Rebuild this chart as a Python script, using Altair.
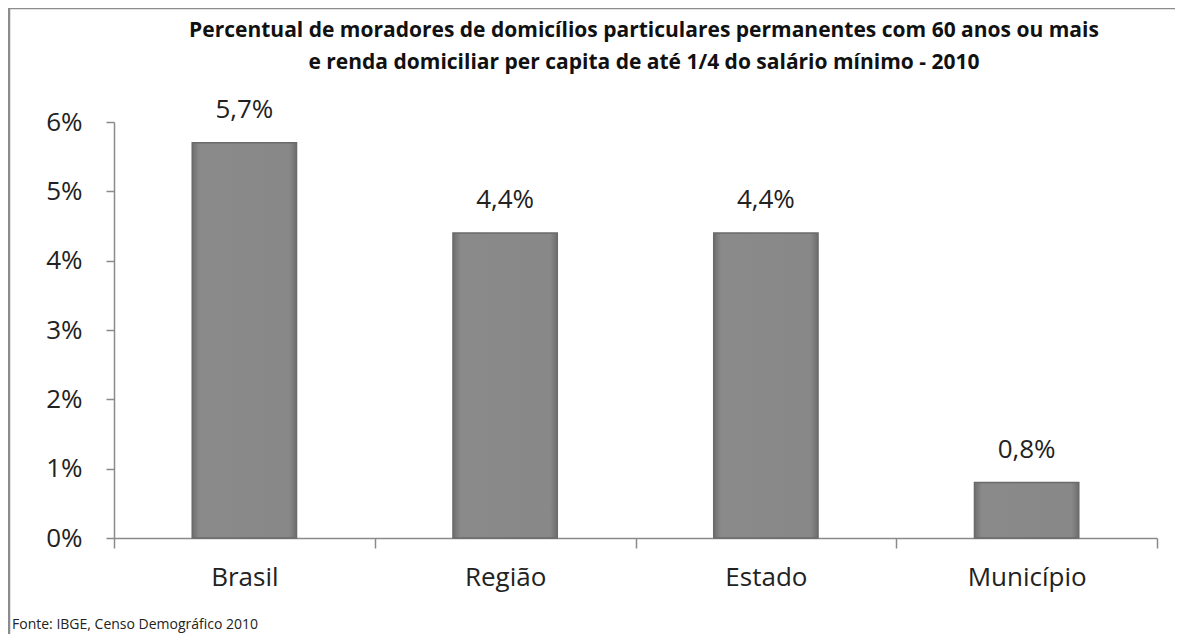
import altair as alt
import pandas as pd

categories = ["Brasil", "Região", "Estado", "Município"]
values = [0.057, 0.044, 0.044, 0.008]
y_ticks = [0, 0.01, 0.02, 0.03, 0.04, 0.05, 0.06]
title_line1 = "Percentual de moradores de domicílios particulares permanentes com 60 anos ou mais"
title_line2 = "e renda domiciliar per capita de até 1/4 do salário mínimo - 2010"
source_text = "Fonte: IBGE, Censo Demográfico 2010"

labels = [f"{v * 100:.1f}%".replace(".", ",") for v in values]
df = pd.DataFrame({"cat": categories, "val": values, "lab": labels})

FONT = "Open Sans"
W, H = 1043, 416

x_enc = alt.X(
    "cat:N",
    sort=categories,
    title=None,
    scale=alt.Scale(paddingInner=0, paddingOuter=0),
    axis=alt.Axis(
        labelAngle=0,
        labelFont=FONT,
        labelFontSize=26,
        labelColor="#222222",
        labelPadding=16,
        domainColor="#8a8a8a",
        domainWidth=1.5,
        tickColor="#8a8a8a",
        tickWidth=1.5,
        tickSize=10,
        tickBand="extent",
    ),
)
y_enc = alt.Y(
    "val:Q",
    title=None,
    scale=alt.Scale(domain=[0, 0.06], nice=False),
    axis=alt.Axis(
        values=y_ticks,
        format=".0%",
        labelFont=FONT,
        labelFontSize=26,
        labelColor="#222222",
        labelPadding=24,
        domainColor="#8a8a8a",
        domainWidth=1.5,
        tickColor="#8a8a8a",
        tickWidth=1.5,
        tickSize=8,
        grid=False,
    ),
)

bar_fill = alt.Gradient(
    gradient="linear",
    x1=0, x2=1, y1=0, y2=0,
    stops=[
        alt.GradientStop(color="#6e6e6e", offset=0),
        alt.GradientStop(color="#8a8a8a", offset=0.07),
        alt.GradientStop(color="#888888", offset=0.93),
        alt.GradientStop(color="#6e6e6e", offset=1),
    ],
)

bars = alt.Chart(df).mark_bar(
    fill=bar_fill, stroke="#6a6a6a", strokeWidth=1.5,
    width=alt.RelativeBandSize(0.4),
).encode(x=x_enc, y=y_enc)

texts = alt.Chart(df).mark_text(
    font=FONT, fontSize=26, color="#222222", baseline="bottom", dy=-20
).encode(x=alt.X("cat:N", sort=categories), y="val:Q", text="lab:N")

one = pd.DataFrame({"k": [0]})
border = alt.Chart(one).mark_rect(
    fillOpacity=0, stroke="#8c8c8c", strokeWidth=2.5
).encode(
    x=alt.value(-105), x2=alt.value(W + 120),
    y=alt.value(-114), y2=alt.value(H + 140),
)
title1 = alt.Chart(one).mark_text(
    font=FONT, fontSize=21, fontWeight="bold", color="#111111",
    align="center", baseline="middle",
).encode(x=alt.value(530), y=alt.value(-91), text=alt.value(title_line1))
title2 = alt.Chart(one).mark_text(
    font=FONT, fontSize=21, fontWeight="bold", color="#111111",
    align="center", baseline="middle",
).encode(x=alt.value(530), y=alt.value(-59), text=alt.value(title_line2))
source = alt.Chart(one).mark_text(
    font=FONT, fontSize=14, color="#222222", align="left", baseline="middle"
).encode(
    x=alt.value(-102), y=alt.value(503), text=alt.value(source_text)
)

chart = alt.layer(border, title1, title2, bars, texts, source).properties(
    width=W,
    height=H,
    background="white",
    autosize=alt.AutoSizeParams(type="none"),
    padding={"left": 106, "top": 114, "right": 18, "bottom": 96},
).configure_view(strokeWidth=0, stroke="transparent")

chart.save("out.html", embed_options={"renderer": "svg", "actions": False})
